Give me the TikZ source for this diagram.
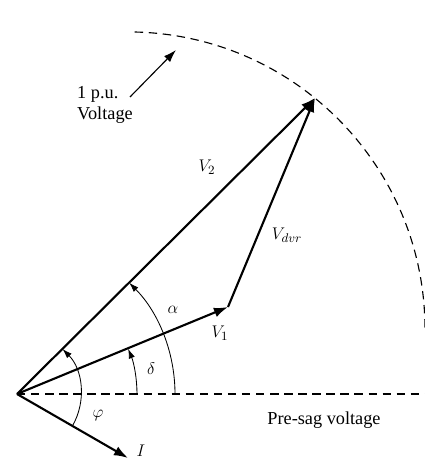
\documentclass[tikz,border=0pt]{standalone}
\usepackage{fontspec}
\setmainfont{Liberation Serif}
\usepackage{tikz}
\usetikzlibrary{arrows.meta,positioning}

\begin{document}
\begin{tikzpicture}[
    x=0.025cm, y=0.025cm,
    font=\fontsize{13}{15}\selectfont,
    phasor/.style={line width=1.5pt, -{Latex[length=10pt,width=7pt]}},
    angarrow/.style={line width=0.6pt, -{Latex[length=7pt,width=4.5pt]}},
    guide/.style={line width=0.8pt, dash pattern=on 6pt off 4pt},
    pointer/.style={line width=0.8pt, -{Latex[length=9pt,width=6pt]}}
]
\useasboundingbox (-17,-67) rectangle (408,394);

% Phasor end points
\coordinate (origin) at (0,0);
\coordinate (v1tip) at (211,87);
\coordinate (v2tip) at (298,296);
\coordinate (itip) at (111,-64);
\coordinate (presag) at (408,0);

% 1 p.u. circle and pre-sag reference
\draw[guide] (117.7,362) arc[start angle=88.7, end angle=0, radius=297];
\draw[guide] (origin) -- (presag);

% Phasors
\draw[phasor] (origin) -- (v2tip);
\draw[phasor] (origin) -- (v1tip);
\draw[phasor] (v1tip) -- (v2tip);
\draw[phasor] (origin) -- (itip);

% Angles
\draw[angarrow] (158,0) arc[start angle=0, end angle=44.8, radius=158];
\draw[angarrow] (120,0) arc[start angle=0, end angle=22.2, radius=120];
\draw[angarrow] (55.4,-32) arc[start angle=-30, end angle=44.8, radius=64];

% Labels
\node (v2lbl) at (190,227) {$V_2$};
\node (vdvrlbl) at (270,159) {$V_{dvr}$};
\node (v1lbl) at (203,61) {$V_1$};
\node (alphalbl) at (156,84) {$\alpha$};
\node (deltalbl) at (134,25) {$\delta$};
\node (philbl) at (81,-22) {$\varphi$};
\node[inner sep=1pt] (ilbl) at (124,-57) {$I$};
\node (presaglbl) at (307,-26) {Pre-sag voltage};

% 1 p.u. annotation
\node[align=left, inner sep=0pt] (pulbl) at (88,289) {1 p.u.\\Voltage};
\coordinate (pupoint) at (159,344);
\draw[pointer] (113,297) -- (pupoint);

\end{tikzpicture}
\end{document}
